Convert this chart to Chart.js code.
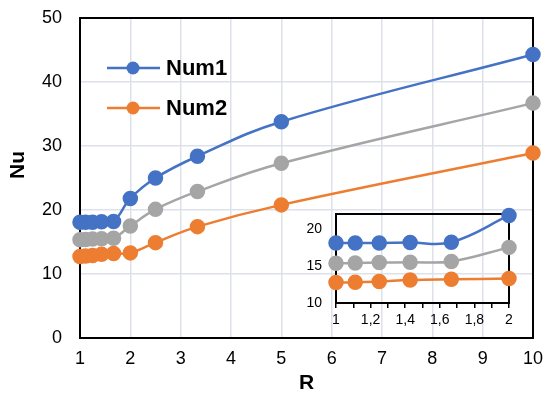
<!DOCTYPE html>
<html>
<head>
<meta charset="utf-8">
<script src="https://cdn.jsdelivr.net/npm/chart.js@4/dist/chart.umd.min.js"></script>
<style>
  html, body { margin: 0; padding: 0; background: #fff; }
  #wrap { position: relative; width: 547px; height: 400px; }
  #main { position: absolute; left: 0; top: 0; }
  #inset { position: absolute; left: 290px; top: 200px; }
</style>
</head>
<body>
<div id="wrap">
  <canvas id="main" width="547" height="400"></canvas>
  <canvas id="inset" width="230" height="140"></canvas>
</div>
<script>
// ---- data ----
const rValues = [1, 10/9, 1.25, 10/7, 10/6, 2, 2.5, 10/3, 5, 10];
const num1 = [18.1, 18.1, 18.1, 18.15, 18.2, 21.8, 25.0, 28.4, 33.8, 44.3];
const middle = [15.35, 15.4, 15.45, 15.5, 15.6, 17.5, 20.1, 22.9, 27.3, 36.7];
const num2 = [12.75, 12.8, 12.9, 13.1, 13.2, 13.3, 14.9, 17.4, 20.8, 28.9];
const insetCount = 6; // points with R <= 2 shown in the inset
const seriesLabels = ['Num1', '', 'Num2'];
const mainXTicks = [1, 2, 3, 4, 5, 6, 7, 8, 9, 10];
const mainYTicks = [0, 10, 20, 30, 40, 50];
const insetYTicks = [10, 15, 20];

const colors = ['#4472C4', '#A5A5A5', '#ED7D31'];
const FONT = "'Liberation Sans', Arial, sans-serif";
Chart.defaults.font.family = FONT;
Chart.defaults.color = '#000';

function makeDatasets(n, radius) {
  const all = [num1, middle, num2];
  return all.map((vals, i) => ({
    label: seriesLabels[i],
    data: rValues.slice(0, n).map((x, j) => ({x: x, y: vals[j]})),
    borderColor: colors[i],
    backgroundColor: colors[i],
    pointBackgroundColor: colors[i],
    pointBorderColor: colors[i],
    pointRadius: radius,
    pointHoverRadius: radius,
    borderWidth: 2.5,
    tension: 0.4,
    clip: false
  }));
}

function fixSize(prop, size) {
  return s => {
    s[prop] = size;
    s.paddingTop = 0; s.paddingBottom = 0; s.paddingLeft = 0; s.paddingRight = 0;
  };
}

const boxPlugin = {
  id: 'box',
  beforeDatasetsDraw(chart, args, opts) {
    const a = chart.chartArea, c = chart.ctx;
    c.save();
    c.strokeStyle = '#000';
    c.lineWidth = opts.width || 2;
    c.strokeRect(a.left, a.top, a.right - a.left, a.bottom - a.top);
    c.restore();
  }
};

const mainDecor = {
  id: 'mainDecor',
  afterDraw(chart) {
    const c = chart.ctx;
    c.save();
    // y title
    c.translate(18, 165);
    c.rotate(-Math.PI / 2);
    c.font = 'bold 21px ' + FONT;
    c.fillStyle = '#000';
    c.textAlign = 'center';
    c.textBaseline = 'middle';
    c.fillText('Nu', 0, 0);
    c.restore();
    // legend
    const items = [0, 2];
    const ys = [68, 108];
    items.forEach((di, k) => {
      const ds = chart.data.datasets[di];
      const y = ys[k];
      c.save();
      c.strokeStyle = ds.borderColor;
      c.lineWidth = 2.5;
      c.beginPath(); c.moveTo(107, y); c.lineTo(160, y); c.stroke();
      c.fillStyle = ds.borderColor;
      c.beginPath(); c.arc(133, y, 6.5, 0, Math.PI * 2); c.fill();
      c.fillStyle = '#000';
      c.font = 'bold 22px ' + FONT;
      c.textAlign = 'left';
      c.textBaseline = 'middle';
      c.fillText(ds.label, 166, y + 1);
      c.restore();
    });
  }
};

new Chart(document.getElementById('main'), {
  type: 'line',
  data: { datasets: makeDatasets(rValues.length, 6.5) },
  options: {
    responsive: false,
    animation: false,
    layout: { padding: { top: 18, right: 14, left: 0, bottom: 0 } },
    plugins: { legend: { display: false }, tooltip: { enabled: false }, box: { width: 2 } },
    scales: {
      x: {
        type: 'linear', min: 1, max: 10,
        afterBuildTicks: s => { s.ticks = mainXTicks.map(v => ({value: v})); },
        afterFit: fixSize('height', 62),
        grid: { color: '#dde2ea', lineWidth: 1.5, drawTicks: false },
        border: { display: false },
        ticks: { font: { size: 18 }, padding: 10, color: '#000', maxRotation: 0 },
        title: { display: true, text: 'R', font: { size: 21, weight: 'bold' }, padding: { top: 0 }, color: '#000' }
      },
      y: {
        min: 0, max: 50,
        afterBuildTicks: s => { s.ticks = mainYTicks.map(v => ({value: v})); },
        afterFit: fixSize('width', 80),
        grid: { color: '#dde2ea', lineWidth: 1.5, drawTicks: false },
        border: { display: false },
        ticks: { font: { size: 18 }, padding: 18, color: '#000' }
      }
    }
  },
  plugins: [boxPlugin, mainDecor]
});

new Chart(document.getElementById('inset'), {
  type: 'line',
  data: { datasets: makeDatasets(insetCount, 6.5) },
  options: {
    responsive: false,
    animation: false,
    layout: { padding: { top: 14, right: 11, left: 0, bottom: 0 } },
    plugins: { legend: { display: false }, tooltip: { enabled: false }, box: { width: 2 } },
    scales: {
      x: {
        type: 'linear', min: 1, max: 2,
        afterBuildTicks: s => {
          const t = [];
          for (let i = 10; i <= 20; i++) t.push({value: i / 10});
          s.ticks = t;
        },
        afterFit: fixSize('height', 37),
        grid: { drawOnChartArea: false, drawTicks: true, tickLength: 5, color: '#000', lineWidth: 1.5 },
        border: { display: false },
        ticks: {
          font: { size: 14 }, padding: 4, color: '#000', maxRotation: 0, autoSkip: false,
          callback: v => {
            const k = Math.round(v * 10);
            if (k % 2 !== 0) return '';
            return (k % 10 === 0) ? String(k / 10) : (k / 10).toFixed(1).replace('.', ',');
          }
        }
      },
      y: {
        min: 10, max: 22,
        afterBuildTicks: s => { s.ticks = insetYTicks.map(v => ({value: v})); },
        afterFit: fixSize('width', 46),
        grid: { drawOnChartArea: false, drawTicks: false },
        border: { display: false },
        ticks: { font: { size: 14 }, padding: 14, color: '#000' }
      }
    }
  },
  plugins: [boxPlugin]
});
</script>
</body>
</html>
